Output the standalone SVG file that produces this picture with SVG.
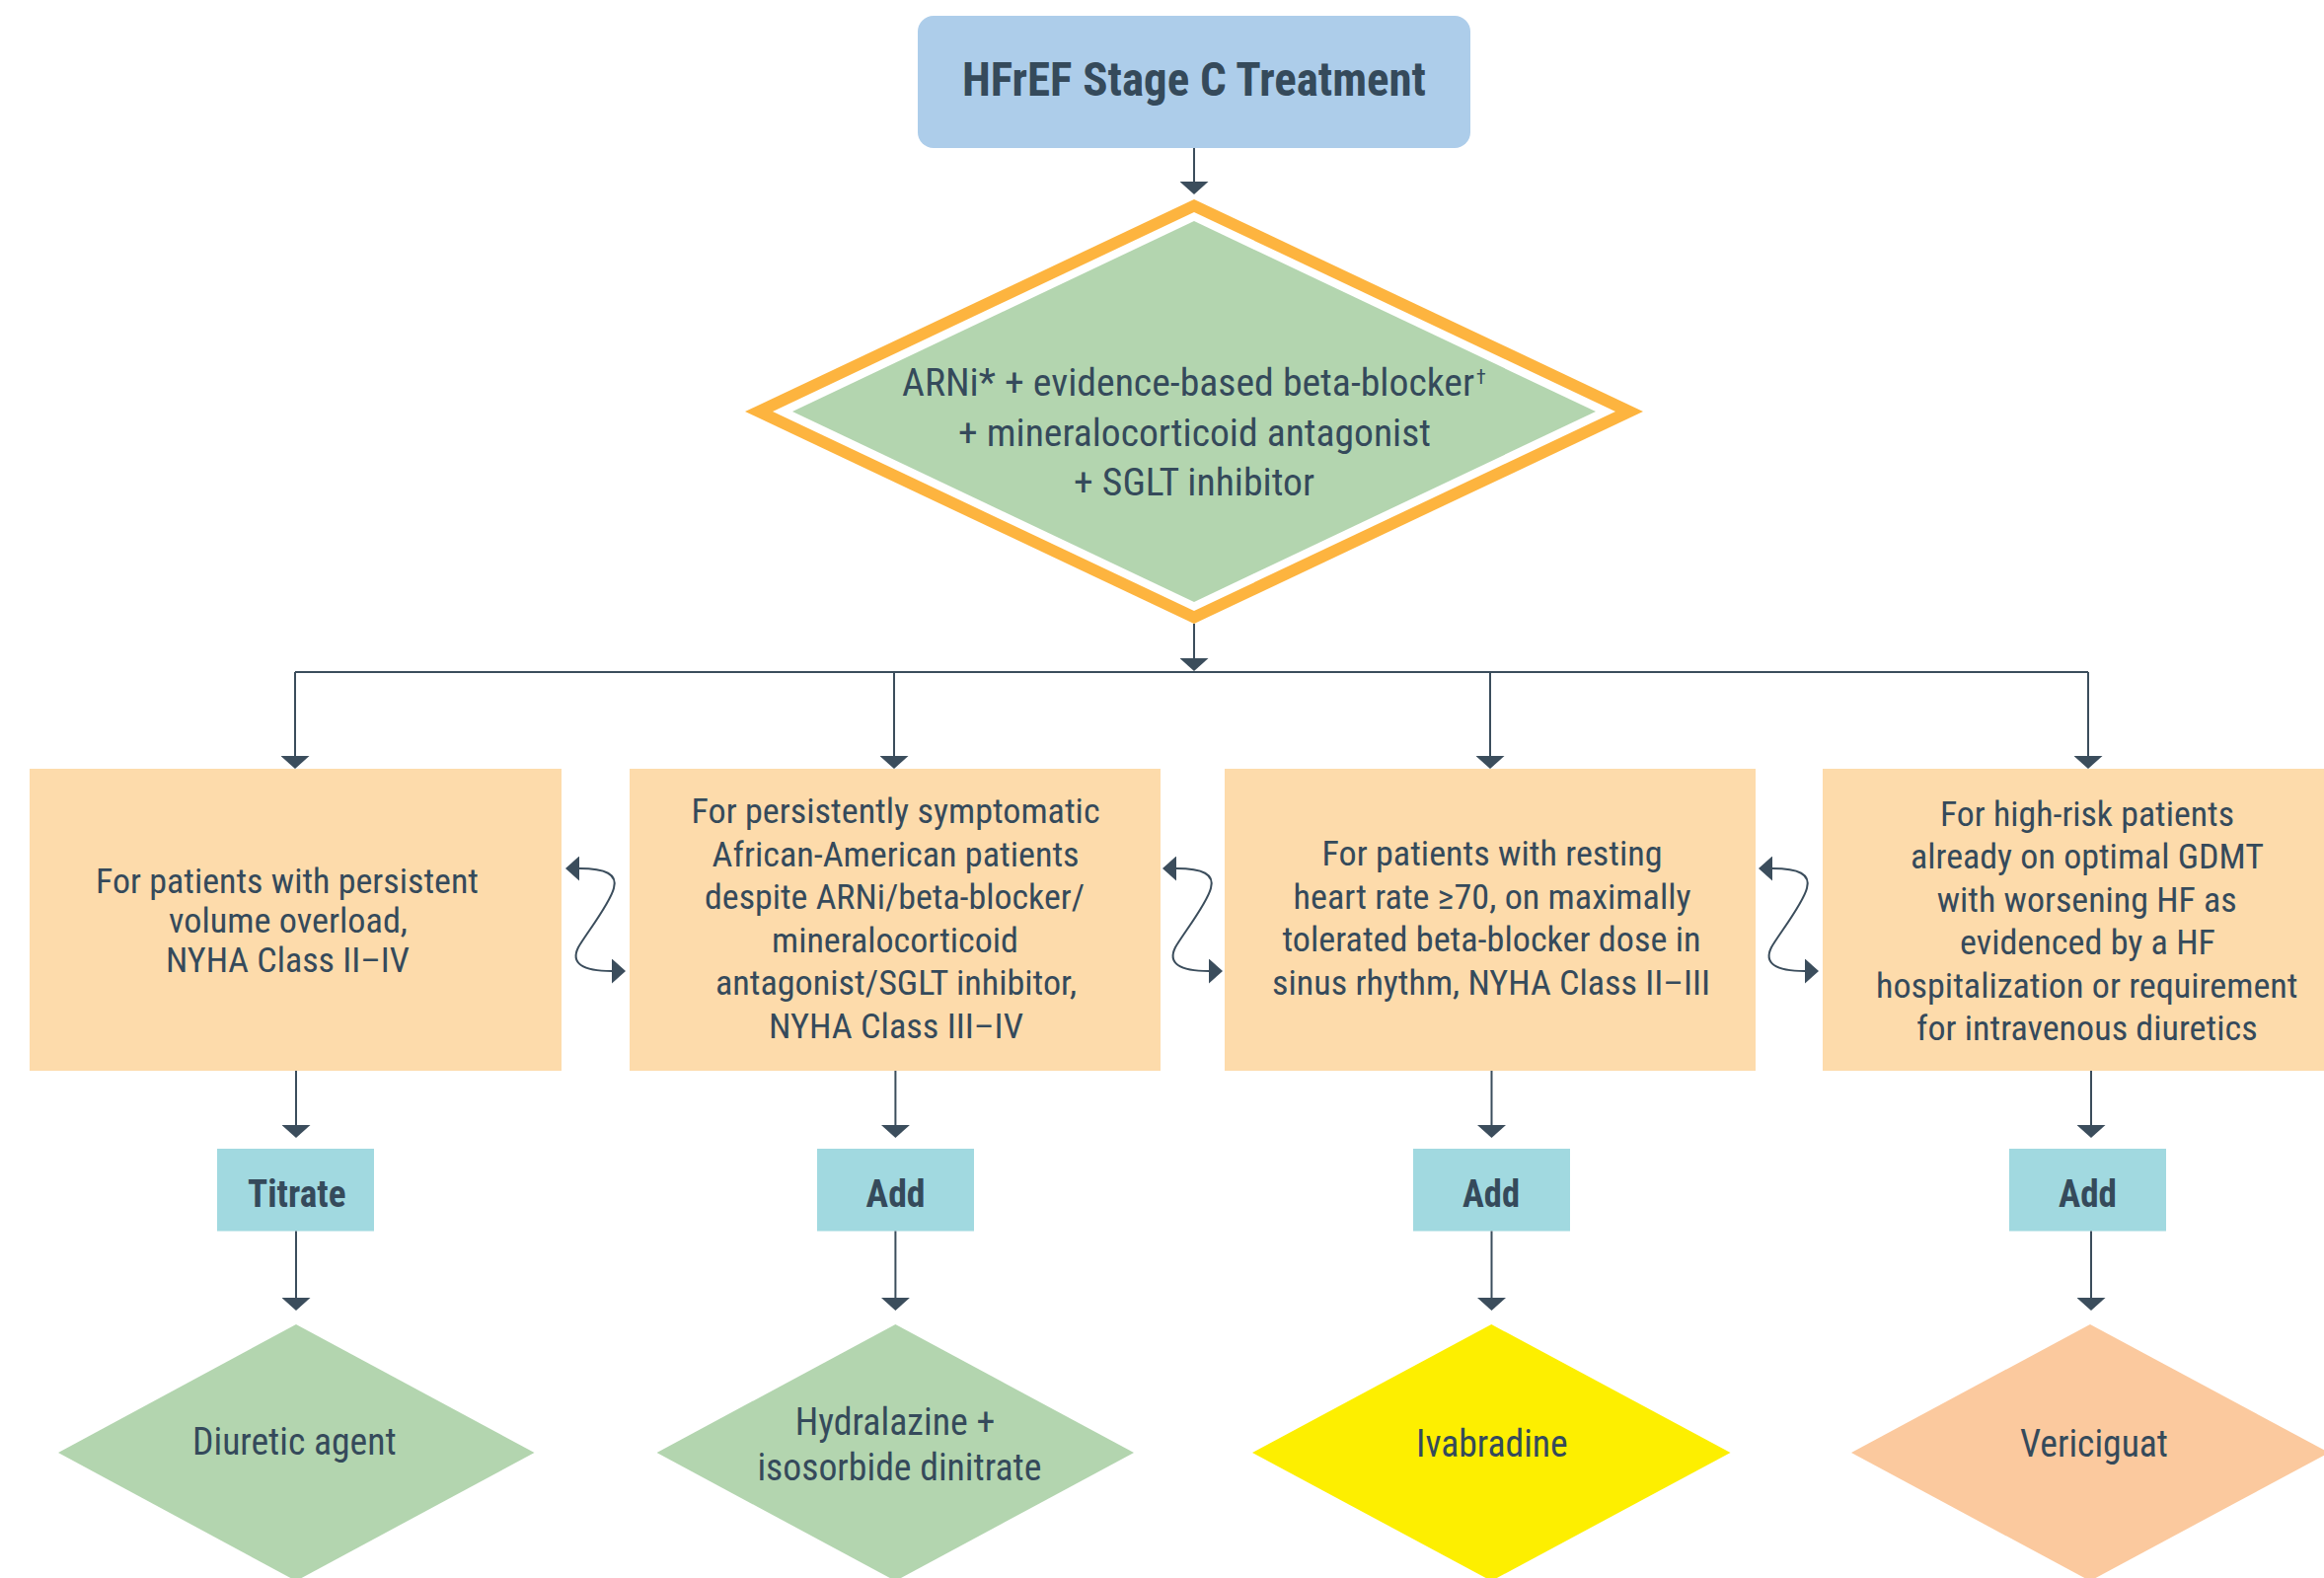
<svg xmlns="http://www.w3.org/2000/svg" width="2355" height="1599" viewBox="0 0 2355 1599">
<defs>
<style>
.t{font-family:"Roboto Condensed",Roboto,"Liberation Sans",sans-serif;fill:#354A5B}
.b{font-weight:700}
.s34{font-size:35px}
.s37{font-size:38px}
.s49{font-size:49px}
.ln{fill:none;stroke:#3B4D5C;stroke-width:2}
.arr{marker-end:url(#ah)}
.wave{marker-start:url(#wh);marker-end:url(#wh)}
.cond{fill:#FDDBAB}
.act{fill:#A1D9E0}
.green{fill:#B3D5AF}
</style>
<marker id="ah" markerUnits="userSpaceOnUse" markerWidth="13" markerHeight="29" viewBox="0 0 13 29" refX="0" refY="14.5" orient="auto"><path d="M0,0 L13,14.5 L0,29 Z" fill="#3B4D5C"/></marker>
<marker id="wh" markerUnits="userSpaceOnUse" markerWidth="14" markerHeight="25" viewBox="0 0 14 25" refX="0" refY="12.5" orient="auto-start-reverse"><path d="M0,0 L14,12.5 L0,25 Z" fill="#3B4D5C"/></marker>
</defs>
<rect width="2355" height="1599" fill="#FFFFFF"/>

<g id="title">
<rect x="930" y="16" width="560" height="134" rx="16" fill="#ADCDEA"/>
<text class="t b s49" x="975" y="97" textLength="470" lengthAdjust="spacingAndGlyphs">HFrEF Stage C Treatment</text>
</g>

<g id="main">
<polygon points="1210,202 1665,417 1210,632 755,417" fill="#FDB43F"/>
<polygon points="1210,215 1637,417 1210,619 783,417" fill="#FFFFFF"/>
<polygon points="1210,224 1617,417 1210,610 803,417" class="green"/>
<text class="t s37" x="914" y="401" textLength="580" lengthAdjust="spacingAndGlyphs">ARNi* + evidence-based beta-blocker</text>
<text class="t" x="1496" y="389" font-size="20">†</text>
<text class="t s37" x="971" y="452" textLength="479" lengthAdjust="spacingAndGlyphs">+ mineralocorticoid antagonist</text>
<text class="t s37" x="1088" y="502" textLength="244" lengthAdjust="spacingAndGlyphs">+ SGLT inhibitor</text>
</g>

<g id="box1">
<rect x="30" y="779" width="539" height="306" class="cond"/>
<text class="t s34" x="97" y="905" textLength="388" lengthAdjust="spacingAndGlyphs">For patients with persistent</text>
<text class="t s34" x="171" y="945" textLength="242" lengthAdjust="spacingAndGlyphs">volume overload,</text>
<text class="t s34" x="168" y="985" textLength="247" lengthAdjust="spacingAndGlyphs">NYHA Class II–IV</text>
</g>

<g id="box2">
<rect x="638" y="779" width="538" height="306" class="cond"/>
<text class="t s34" x="700.6" y="834" textLength="414" lengthAdjust="spacingAndGlyphs">For persistently symptomatic</text>
<text class="t s34" x="721.6" y="877.6" textLength="372" lengthAdjust="spacingAndGlyphs">African-American patients</text>
<text class="t s34" x="714" y="921.2" textLength="385" lengthAdjust="spacingAndGlyphs">despite ARNi/beta-blocker/</text>
<text class="t s34" x="782" y="964.8" textLength="250" lengthAdjust="spacingAndGlyphs">mineralocorticoid</text>
<text class="t s34" x="725" y="1008.4" textLength="366" lengthAdjust="spacingAndGlyphs">antagonist/SGLT inhibitor,</text>
<text class="t s34" x="779" y="1052" textLength="258" lengthAdjust="spacingAndGlyphs">NYHA Class III–IV</text>
</g>

<g id="box3">
<rect x="1241" y="779" width="538" height="306" class="cond"/>
<text class="t s34" x="1339.6" y="877" textLength="345" lengthAdjust="spacingAndGlyphs">For patients with resting</text>
<text class="t s34" x="1310.6" y="920.5" textLength="403" lengthAdjust="spacingAndGlyphs">heart rate ≥70, on maximally</text>
<text class="t s34" x="1299.5" y="964" textLength="424" lengthAdjust="spacingAndGlyphs">tolerated beta-blocker dose in</text>
<text class="t s34" x="1289" y="1007.5" textLength="444" lengthAdjust="spacingAndGlyphs">sinus rhythm, NYHA Class II–III</text>
</g>

<g id="box4">
<rect x="1847" y="779" width="539" height="306" class="cond"/>
<text class="t s34" x="1966" y="836.5" textLength="298" lengthAdjust="spacingAndGlyphs">For high-risk patients</text>
<text class="t s34" x="1936" y="880" textLength="358" lengthAdjust="spacingAndGlyphs">already on optimal GDMT</text>
<text class="t s34" x="1962.7" y="923.5" textLength="304" lengthAdjust="spacingAndGlyphs">with worsening HF as</text>
<text class="t s34" x="1986" y="967" textLength="259" lengthAdjust="spacingAndGlyphs">evidenced by a HF</text>
<text class="t s34" x="1901" y="1010.5" textLength="427.5" lengthAdjust="spacingAndGlyphs">hospitalization or requirement</text>
<text class="t s34" x="1942" y="1054" textLength="345.6" lengthAdjust="spacingAndGlyphs">for intravenous diuretics</text>
</g>

<g id="act1">
<rect x="220" y="1164" width="159" height="83.5" class="act"/>
<text class="t b s37" x="251" y="1223" textLength="99.5" lengthAdjust="spacingAndGlyphs">Titrate</text>
</g>
<g id="act2">
<rect x="828" y="1164" width="159" height="83.5" class="act"/>
<text class="t b s37" x="877.6" y="1223" textLength="60" lengthAdjust="spacingAndGlyphs">Add</text>
</g>
<g id="act3">
<rect x="1432" y="1164" width="159" height="83.5" class="act"/>
<text class="t b s37" x="1482" y="1223" textLength="58" lengthAdjust="spacingAndGlyphs">Add</text>
</g>
<g id="act4">
<rect x="2036" y="1164" width="159" height="83.5" class="act"/>
<text class="t b s37" x="2086" y="1223" textLength="59" lengthAdjust="spacingAndGlyphs">Add</text>
</g>

<g id="res1">
<polygon points="300,1342 541.5,1472 300,1602 59,1472" class="green"/>
<text class="t s37" x="195" y="1474" textLength="206.6" lengthAdjust="spacingAndGlyphs">Diuretic agent</text>
</g>
<g id="res2">
<polygon points="907.4,1342 1149,1472 907.4,1602 665.6,1472" class="green"/>
<text class="t s37" x="805.7" y="1454" textLength="202.7" lengthAdjust="spacingAndGlyphs">Hydralazine +</text>
<text class="t s37" x="767.4" y="1500" textLength="288" lengthAdjust="spacingAndGlyphs">isosorbide dinitrate</text>
</g>
<g id="res3">
<polygon points="1511.3,1342 1753.5,1472 1511.3,1602 1269,1472" fill="#FDEF00"/>
<text class="t s37" x="1435" y="1476" textLength="153.7" lengthAdjust="spacingAndGlyphs">Ivabradine</text>
</g>
<g id="res4">
<polygon points="2118,1342 2360,1472 2118,1602 1876,1472" fill="#FBC99E"/>
<text class="t s37" x="2047" y="1476" textLength="150" lengthAdjust="spacingAndGlyphs">Vericiguat</text>
</g>

<g id="connectors">
<path class="ln arr" d="M1210,150 V184"/>
<path class="ln arr" d="M1210,632 V667"/>
<path class="ln" d="M299,681 H2116"/>
<path class="ln arr" d="M299,681 V766"/>
<path class="ln arr" d="M906,681 V766"/>
<path class="ln arr" d="M1510,681 V766"/>
<path class="ln arr" d="M2116,681 V766"/>
<path class="ln arr" d="M300,1085 V1140"/>
<path class="ln arr" d="M907.4,1085 V1140"/>
<path class="ln arr" d="M1511.5,1085 V1140"/>
<path class="ln arr" d="M2119,1085 V1140"/>
<path class="ln arr" d="M300,1247.5 V1315"/>
<path class="ln arr" d="M907.4,1247.5 V1315"/>
<path class="ln arr" d="M1511.5,1247.5 V1315"/>
<path class="ln arr" d="M2119,1247.5 V1315"/>
<path class="ln wave" d="M587,880 C614,880 626,886 622,900 C618,916 594,946 586,960 C578,976 590,984 620,984"/>
<path class="ln wave" transform="translate(605,0)" d="M587,880 C614,880 626,886 622,900 C618,916 594,946 586,960 C578,976 590,984 620,984"/>
<path class="ln wave" transform="translate(1209,0)" d="M587,880 C614,880 626,886 622,900 C618,916 594,946 586,960 C578,976 590,984 620,984"/>
</g>
</svg>
